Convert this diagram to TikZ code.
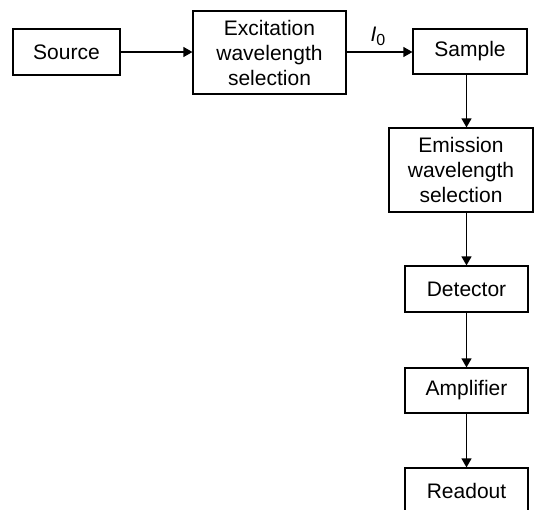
\documentclass[tikz,border=0pt]{standalone}
\usepackage{fontspec}
\setmainfont{Liberation Sans}
\usetikzlibrary{arrows.meta}
\begin{document}
\begin{tikzpicture}[x=1pt,y=-1pt,
  blk/.style={draw,line width=1.2pt,inner sep=0pt,align=center,
    font=\fontsize{21}{25}\selectfont},
  arr/.style={line width=1.2pt,-{Triangle[length=9pt,width=10pt]}}]
\useasboundingbox (0,0) rectangle (534,509);
\clip (0,0) rectangle (534,509);
\node[blk,minimum width=107pt,minimum height=46pt] (src) at (66.5,52) {Source};
\node[blk,minimum width=153pt,minimum height=83pt] (exc) at (269.5,52.5) {Excitation\\wavelength\\selection};
\node[blk,minimum width=114pt,minimum height=45pt] (smp) at (470,51.5) {Sample};
\node[blk,minimum width=144pt,minimum height=84pt] (emi) at (461,170) {Emission\\wavelength\\selection};
\node[blk,minimum width=123pt,minimum height=46pt] (det) at (466.5,289) {Detector};
\node[blk,minimum width=123pt,minimum height=45pt] (amp) at (466.5,390.5) {Amplifier};
\node[blk,minimum width=123pt,minimum height=45pt] (rdo) at (466.5,490.5) {Readout};
\node[font=\fontsize{21}{25}\selectfont,inner sep=0pt] (i0) at (378,36) {\textit{I}\raisebox{-0.35ex}{\fontsize{16}{19}\selectfont 0}};
\draw[arr] (src.east |- 0,52) -- (exc.west |- 0,52);
\draw[arr] (exc.east |- 0,52) -- (smp.west |- 0,52);
\draw[arr] (smp.south -| det.north) -- (emi.north -| det.north);
\draw[arr] (emi.south -| det.north) -- (det.north);
\draw[arr] (det.south) -- (amp.north);
\draw[arr] (amp.south) -- (rdo.north);
\end{tikzpicture}
\end{document}
